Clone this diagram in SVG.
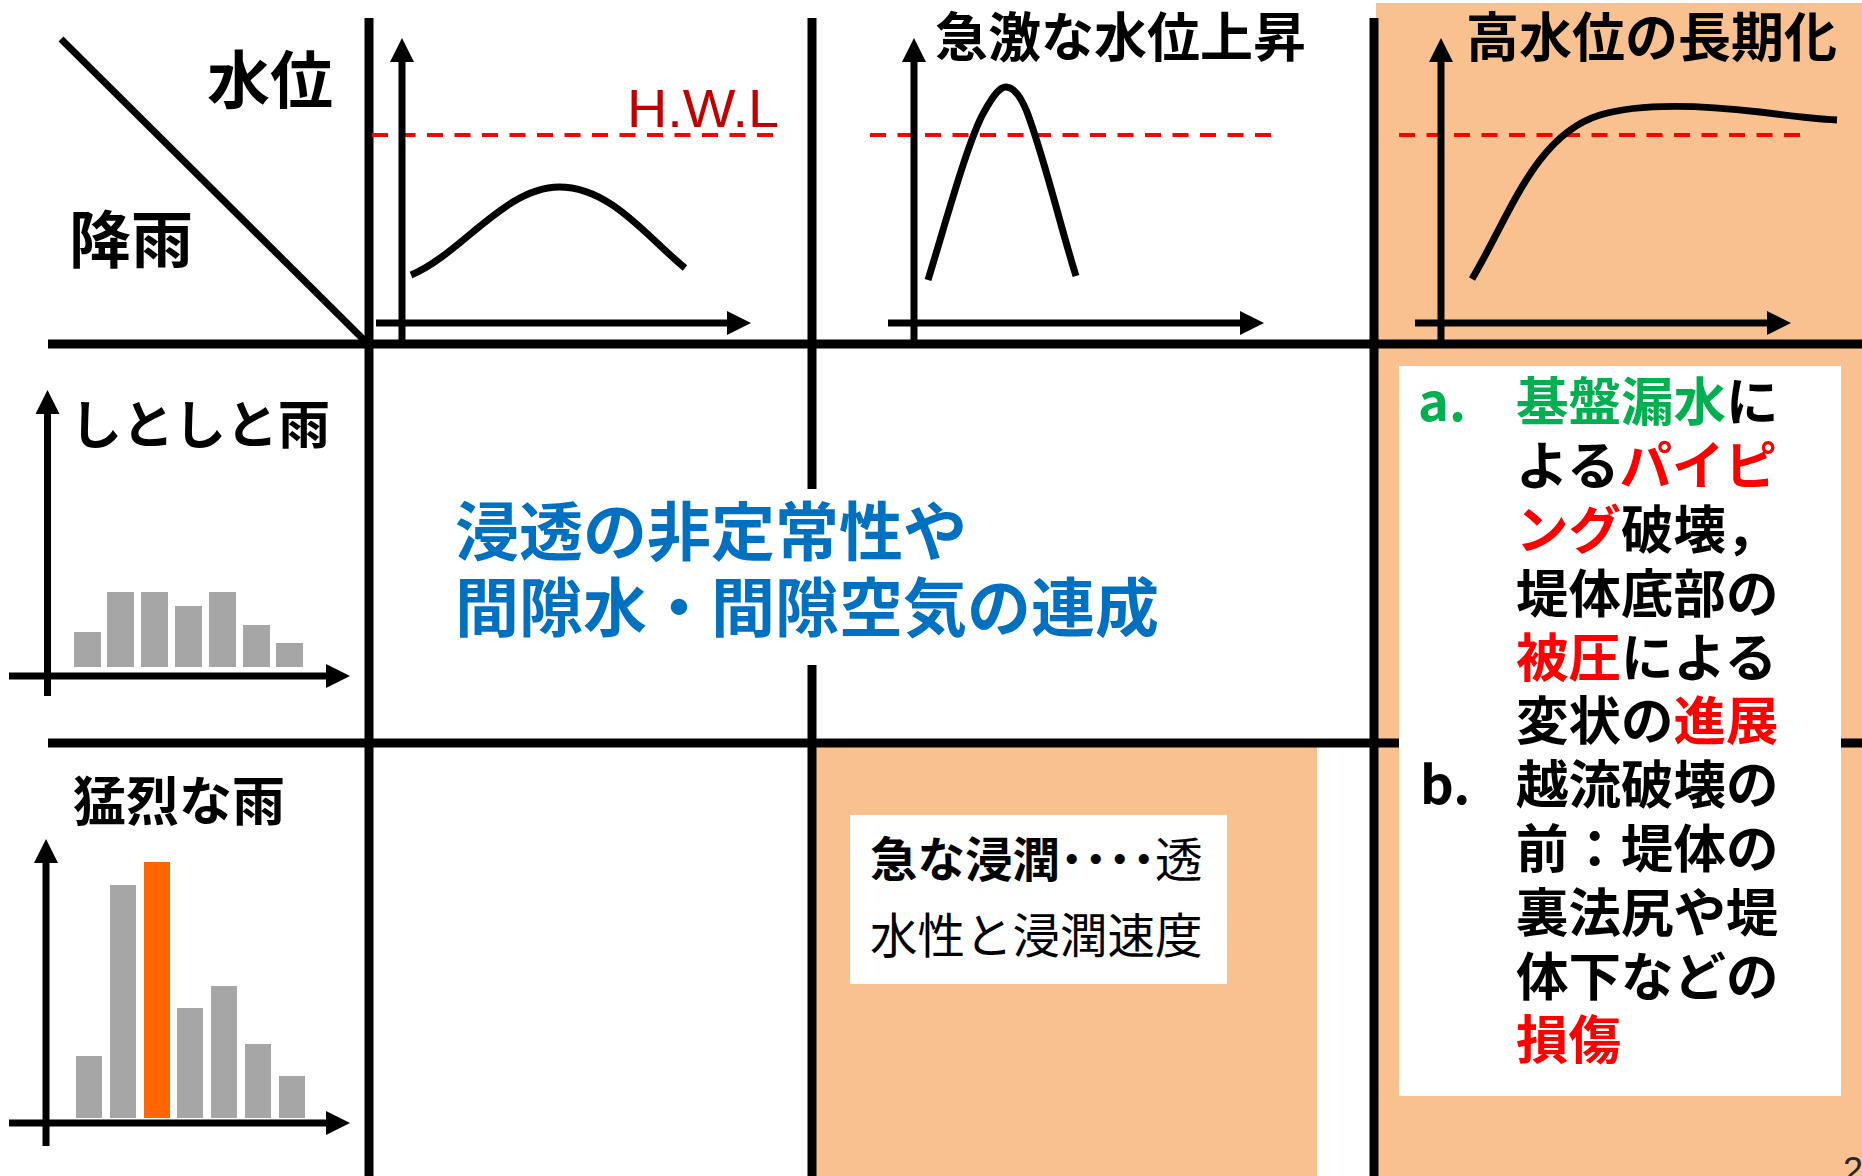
<svg xmlns="http://www.w3.org/2000/svg" width="1862" height="1176" viewBox="0 0 1862 1176">
<style>
.jp{font-family:"Noto Sans CJK JP","Noto Sans",sans-serif}
.b{font-weight:700}
.grid{stroke:#000;stroke-width:9;fill:none}
.axis{stroke:#000;stroke-width:7;fill:none}
.curve{stroke:#000;stroke-width:7;fill:none}
.hwl{stroke:#FF0000;stroke-width:4;stroke-dasharray:16 11.5;fill:none}
.bar{fill:#A6A6A6}
.peach{fill:#F8C18F}
.red{fill:#FF0000}
.green{fill:#00B050}
</style>
<defs>
<marker id="arr" viewBox="0 0 24 24" markerWidth="24" markerHeight="24" refX="0" refY="12" orient="auto" markerUnits="userSpaceOnUse">
<path d="M0,0 L24,12 L0,24 Z" fill="#000"/>
</marker>
</defs>
<rect width="1862" height="1176" fill="#fff"/>
<g id="backgrounds">
<rect class="peach" x="1376" y="3" width="486" height="1173"/>
<rect class="peach" x="813" y="743" width="504" height="433"/>
</g>
<g id="connectors">
<line class="grid" x1="48" y1="344" x2="1862" y2="344"/>
<line class="grid" x1="48" y1="743" x2="1862" y2="743"/>
<line class="grid" x1="369" y1="18" x2="369" y2="1176"/>
<line class="grid" x1="812" y1="18" x2="812" y2="489"/>
<line class="grid" x1="812" y1="665" x2="812" y2="1176"/>
<line class="grid" x1="1374" y1="18" x2="1374" y2="1176"/>
<line stroke="#000" stroke-width="7" x1="61" y1="39" x2="367" y2="343"/>
</g>
<g id="header-labels" class="jp b">
<text x="207" y="103" font-size="63">水位</text>
<text x="69" y="263" font-size="62">降雨</text>
</g>
<g id="graph-normal">
<line class="hwl" x1="372" y1="135" x2="780" y2="135"/>
<text x="627" y="127" font-family="Liberation Sans, Arial, sans-serif" font-size="54" fill="#C00000" textLength="152" lengthAdjust="spacingAndGlyphs">H.W.L</text>
<line class="axis" x1="402" y1="340" x2="402" y2="62" marker-end="url(#arr)"/>
<line class="axis" x1="376" y1="323" x2="727" y2="323" marker-end="url(#arr)"/>
<path class="curve" d="M411,275 C460,255 505,187 559,187 C610,187 645,235 685,268"/>
</g>
<g id="graph-rapid">
<text class="jp b" x="935" y="57" font-size="53">急激な水位上昇</text>
<line class="hwl" x1="870" y1="135" x2="1279" y2="135"/>
<line class="axis" x1="914" y1="340" x2="914" y2="62" marker-end="url(#arr)"/>
<line class="axis" x1="888" y1="323" x2="1240" y2="323" marker-end="url(#arr)"/>
<path class="curve" d="M928,280 C945,225 968,140 984,112 C994,94 1000,87 1006,87 C1013,87 1020,95 1027,112 C1045,160 1060,225 1076,276"/>
</g>
<g id="graph-long">
<text class="jp b" x="1466" y="57" font-size="53">高水位の長期化</text>
<line class="hwl" x1="1399" y1="135" x2="1807" y2="135"/>
<line class="axis" x1="1441" y1="340" x2="1441" y2="62" marker-end="url(#arr)"/>
<line class="axis" x1="1415" y1="323" x2="1767" y2="323" marker-end="url(#arr)"/>
<path class="curve" d="M1472,279 C1510,215 1535,135 1600,115 C1640,103 1700,105 1760,112 C1790,116 1815,119 1837,120"/>
</g>
<g id="rain-steady">
<text class="jp b" x="70" y="444" font-size="52">しとしと雨</text>
<rect class="bar" x="74" y="632" width="27" height="35"/>
<rect class="bar" x="107" y="592" width="27" height="75"/>
<rect class="bar" x="141" y="592" width="27" height="75"/>
<rect class="bar" x="175" y="606" width="27" height="61"/>
<rect class="bar" x="209" y="592" width="27" height="75"/>
<rect class="bar" x="243" y="625" width="27" height="42"/>
<rect class="bar" x="276" y="643" width="27" height="24"/>
<line class="axis" x1="47.5" y1="696" x2="47.5" y2="414" marker-end="url(#arr)"/>
<line class="axis" x1="9" y1="676" x2="326" y2="676" marker-end="url(#arr)"/>
</g>
<g id="rain-heavy">
<text class="jp b" x="73" y="821" font-size="53">猛烈な雨</text>
<rect class="bar" x="76" y="1056" width="26" height="62"/>
<rect class="bar" x="110" y="885" width="26" height="233"/>
<rect x="144" y="862" width="26" height="256" fill="#FF6600"/>
<rect class="bar" x="177" y="1008" width="26" height="110"/>
<rect class="bar" x="211" y="986" width="26" height="132"/>
<rect class="bar" x="245" y="1044" width="26" height="74"/>
<rect class="bar" x="279" y="1076" width="26" height="42"/>
<line class="axis" x1="46" y1="1146" x2="46" y2="863" marker-end="url(#arr)"/>
<line class="axis" x1="9" y1="1123" x2="326" y2="1123" marker-end="url(#arr)"/>
</g>
<g id="center-text" class="jp b" fill="#0070C0" font-size="64">
<text x="455" y="555">浸透の非定常性や</text>
<text x="455" y="631">間隙水・間隙空気の連成</text>
</g>
<g id="infiltration-box">
<rect x="850" y="815" width="377" height="169" fill="#fff"/>
<text class="jp" x="870" y="877" font-size="47.5"><tspan font-weight="700">急な浸潤</tspan><tspan x="1048" letter-spacing="-23.5">・・・・</tspan><tspan x="1155">透</tspan></text>
<text class="jp" x="870" y="953" font-size="47.5">水性と浸潤速度</text>
</g>
<g id="failure-box" class="jp b" font-size="52.5">
<rect x="1399" y="366" width="442" height="730" fill="#fff"/>
<text x="1418" y="421" class="green">a.</text>
<text x="1516" y="421"><tspan class="green">基盤漏水</tspan>に</text>
<text x="1516" y="485">よる<tspan class="red">パイピ</tspan></text>
<text x="1516" y="549"><tspan class="red">ング</tspan>破壊，</text>
<text x="1516" y="613">堤体底部の</text>
<text x="1516" y="677"><tspan class="red">被圧</tspan>による</text>
<text x="1516" y="740">変状の<tspan class="red">進展</tspan></text>
<text x="1420" y="804">b.</text>
<text x="1516" y="804">越流破壊の</text>
<text x="1516" y="868">前：堤体の</text>
<text x="1516" y="932">裏法尻や堤</text>
<text x="1516" y="996">体下などの</text>
<text x="1516" y="1059" class="red">損傷</text>
</g>
<text id="page-number" x="1843" y="1183" font-family="Liberation Sans, Arial, sans-serif" font-size="36" fill="#262626">2</text>
</svg>
